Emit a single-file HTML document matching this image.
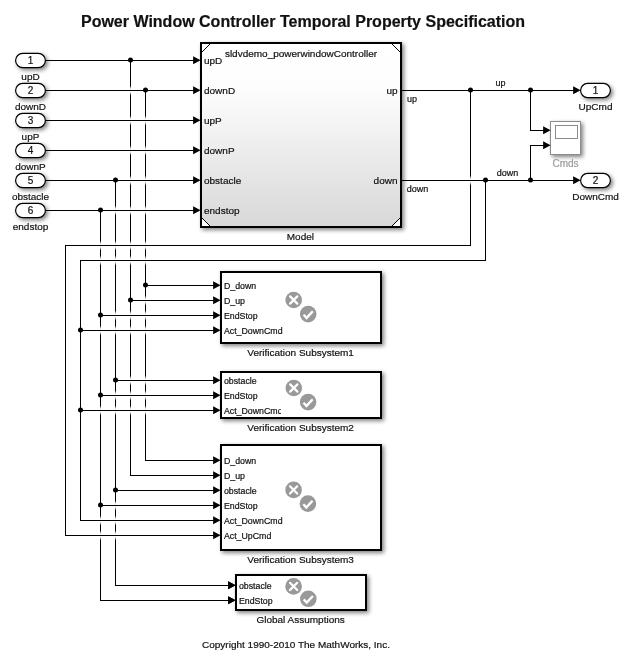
<!DOCTYPE html>
<html><head><meta charset="utf-8"><style>
html,body{margin:0;padding:0;background:#fff;}
svg{display:block;font-family:"Liberation Sans", sans-serif;will-change:transform;}
text{stroke-width:0.2;}
.w{stroke:#000;stroke-width:1;fill:none;}
.port{fill:#fff;stroke:#000;stroke-width:1.2;}
</style></head><body>
<svg width="630" height="663" viewBox="0 0 630 663">
<defs>
<clipPath id="c2" clipPathUnits="userSpaceOnUse"><rect x="222" y="372" width="59" height="46"/></clipPath>
<linearGradient id="mg" x1="0" y1="0" x2="0" y2="1"><stop offset="0" stop-color="#ffffff"/><stop offset="0.25" stop-color="#fdfdfd"/><stop offset="1" stop-color="#d8d8d8"/></linearGradient>
<linearGradient id="gg" x1="0" y1="0" x2="0" y2="1"><stop offset="0" stop-color="#fff" stop-opacity="0"/><stop offset="0.3" stop-color="#fff" stop-opacity="0.85"/><stop offset="0.5" stop-color="#fff" stop-opacity="1"/><stop offset="0.7" stop-color="#fff" stop-opacity="0.85"/><stop offset="1" stop-color="#fff" stop-opacity="0"/></linearGradient>
<filter id="sh" x="-10%" y="-10%" width="130%" height="130%"><feGaussianBlur in="SourceAlpha" stdDeviation="2"/><feOffset dx="2.4" dy="2.4" result="b"/><feComponentTransfer><feFuncA type="linear" slope="0.5"/></feComponentTransfer><feMerge><feMergeNode/><feMergeNode in="SourceGraphic"/></feMerge></filter>
</defs>
<g filter="url(#sh)">
<rect x="15.6" y="53.4" width="29.8" height="14.2" rx="7.1" class="port"/>
<rect x="15.6" y="83.4" width="29.8" height="14.2" rx="7.1" class="port"/>
<rect x="15.6" y="113.4" width="29.8" height="14.2" rx="7.1" class="port"/>
<rect x="15.6" y="143.4" width="29.8" height="14.2" rx="7.1" class="port"/>
<rect x="15.6" y="173.4" width="29.8" height="14.2" rx="7.1" class="port"/>
<rect x="15.6" y="203.4" width="29.8" height="14.2" rx="7.1" class="port"/>
<rect x="580.6" y="83.4" width="29.8" height="14.2" rx="7.1" class="port"/>
<rect x="580.6" y="173.4" width="29.8" height="14.2" rx="7.1" class="port"/>
<rect x="201" y="43" width="200" height="184" fill="url(#mg)" stroke="#000" stroke-width="2"/>
<path d="M202 44H210L202 52Z M400 44H392L400 52Z M202 226H210L202 218Z M400 226H392L400 218Z" fill="#fff"/>
<path d="M202 52L210 44 M392 44L400 52 M202 218L210 226 M392 226L400 218" stroke="#000" stroke-width="1" fill="none"/>
<rect x="550.5" y="121.5" width="30" height="33" fill="#fff" stroke="#8c8c8c" stroke-width="1"/>
<rect x="221" y="272" width="160" height="71" fill="#fff" stroke="#000" stroke-width="2"/>
<rect x="221" y="372" width="160" height="46" fill="#fff" stroke="#000" stroke-width="2"/>
<rect x="221" y="445" width="160" height="105" fill="#fff" stroke="#000" stroke-width="2"/>
<rect x="236" y="575" width="130" height="35" fill="#fff" stroke="#000" stroke-width="2"/>
</g>
<g fill="#000">
<path d="M130.5 60V475.5" class="w"/>
<path d="M145.5 90V460.5" class="w"/>
<path d="M115.5 180V585.5" class="w"/>
<path d="M100.5 210V600.5" class="w"/>
<path d="M470.5 90V245.5" class="w"/>
<path d="M65.5 245V535.5" class="w"/>
<path d="M485.5 180V260.5" class="w"/>
<path d="M80.5 260V520.5" class="w"/>
<path d="M530.5 90V131" class="w"/>
<path d="M530.5 145V180" class="w"/>
</g>
<g><rect x="144.5" y="115.5" width="2" height="10" fill="url(#gg)"/><rect x="144.5" y="145.5" width="2" height="10" fill="url(#gg)"/><rect x="144.5" y="175.5" width="2" height="10" fill="url(#gg)"/><rect x="144.5" y="205.5" width="2" height="10" fill="url(#gg)"/><rect x="144.5" y="240.5" width="2" height="10" fill="url(#gg)"/><rect x="144.5" y="255.5" width="2" height="10" fill="url(#gg)"/><rect x="144.5" y="295.5" width="2" height="10" fill="url(#gg)"/><rect x="144.5" y="310.5" width="2" height="10" fill="url(#gg)"/><rect x="144.5" y="325.5" width="2" height="10" fill="url(#gg)"/><rect x="144.5" y="375.5" width="2" height="10" fill="url(#gg)"/><rect x="144.5" y="390.5" width="2" height="10" fill="url(#gg)"/><rect x="144.5" y="405.5" width="2" height="10" fill="url(#gg)"/><rect x="129.5" y="85.5" width="2" height="10" fill="url(#gg)"/><rect x="129.5" y="115.5" width="2" height="10" fill="url(#gg)"/><rect x="129.5" y="145.5" width="2" height="10" fill="url(#gg)"/><rect x="129.5" y="175.5" width="2" height="10" fill="url(#gg)"/><rect x="129.5" y="205.5" width="2" height="10" fill="url(#gg)"/><rect x="129.5" y="240.5" width="2" height="10" fill="url(#gg)"/><rect x="129.5" y="255.5" width="2" height="10" fill="url(#gg)"/><rect x="129.5" y="310.5" width="2" height="10" fill="url(#gg)"/><rect x="129.5" y="325.5" width="2" height="10" fill="url(#gg)"/><rect x="129.5" y="375.5" width="2" height="10" fill="url(#gg)"/><rect x="129.5" y="390.5" width="2" height="10" fill="url(#gg)"/><rect x="129.5" y="405.5" width="2" height="10" fill="url(#gg)"/><rect x="114.5" y="205.5" width="2" height="10" fill="url(#gg)"/><rect x="114.5" y="240.5" width="2" height="10" fill="url(#gg)"/><rect x="114.5" y="255.5" width="2" height="10" fill="url(#gg)"/><rect x="114.5" y="310.5" width="2" height="10" fill="url(#gg)"/><rect x="114.5" y="325.5" width="2" height="10" fill="url(#gg)"/><rect x="114.5" y="390.5" width="2" height="10" fill="url(#gg)"/><rect x="114.5" y="405.5" width="2" height="10" fill="url(#gg)"/><rect x="114.5" y="500.5" width="2" height="10" fill="url(#gg)"/><rect x="114.5" y="515.5" width="2" height="10" fill="url(#gg)"/><rect x="114.5" y="530.5" width="2" height="10" fill="url(#gg)"/><rect x="99.5" y="240.5" width="2" height="10" fill="url(#gg)"/><rect x="99.5" y="255.5" width="2" height="10" fill="url(#gg)"/><rect x="99.5" y="325.5" width="2" height="10" fill="url(#gg)"/><rect x="99.5" y="405.5" width="2" height="10" fill="url(#gg)"/><rect x="99.5" y="515.5" width="2" height="10" fill="url(#gg)"/><rect x="99.5" y="530.5" width="2" height="10" fill="url(#gg)"/><rect x="469.5" y="175.5" width="2" height="10" fill="url(#gg)"/></g>
<g fill="#000">
<text x="30.5" y="64.1" font-size="10" text-anchor="middle" fill="#111" stroke="#111" >1</text>
<text transform="translate(30.5 79.8) scale(1 0.935)" font-size="10" text-anchor="middle" fill="#111" stroke="#111" >upD</text>
<path d="M45.4 60.5H194" class="w"/>
<path d="M200.6 60.25L193.1 56.35V64.15Z"/>
<text x="30.5" y="94.1" font-size="10" text-anchor="middle" fill="#111" stroke="#111" >2</text>
<text transform="translate(30.5 109.8) scale(1 0.935)" font-size="10" text-anchor="middle" fill="#111" stroke="#111" >downD</text>
<path d="M45.4 90.5H194" class="w"/>
<path d="M200.6 90.25L193.1 86.35V94.15Z"/>
<text x="30.5" y="124.1" font-size="10" text-anchor="middle" fill="#111" stroke="#111" >3</text>
<text transform="translate(30.5 139.8) scale(1 0.935)" font-size="10" text-anchor="middle" fill="#111" stroke="#111" >upP</text>
<path d="M45.4 120.5H194" class="w"/>
<path d="M200.6 120.25L193.1 116.35V124.15Z"/>
<text x="30.5" y="154.1" font-size="10" text-anchor="middle" fill="#111" stroke="#111" >4</text>
<text transform="translate(30.5 169.8) scale(1 0.935)" font-size="10" text-anchor="middle" fill="#111" stroke="#111" >downP</text>
<path d="M45.4 150.5H194" class="w"/>
<path d="M200.6 150.25L193.1 146.35V154.15Z"/>
<text x="30.5" y="184.1" font-size="10" text-anchor="middle" fill="#111" stroke="#111" >5</text>
<text transform="translate(30.5 199.8) scale(1 0.935)" font-size="10" text-anchor="middle" fill="#111" stroke="#111" >obstacle</text>
<path d="M45.4 180.5H194" class="w"/>
<path d="M200.6 180.25L193.1 176.35V184.15Z"/>
<text x="30.5" y="214.1" font-size="10" text-anchor="middle" fill="#111" stroke="#111" >6</text>
<text transform="translate(30.5 229.8) scale(1 0.935)" font-size="10" text-anchor="middle" fill="#111" stroke="#111" >endstop</text>
<path d="M45.4 210.5H194" class="w"/>
<path d="M200.6 210.25L193.1 206.35V214.15Z"/>
<text x="595.5" y="94.1" font-size="10" text-anchor="middle" fill="#111" stroke="#111" >1</text>
<text transform="translate(595.5 109.5) scale(1 0.935)" font-size="10" text-anchor="middle" fill="#111" stroke="#111" >UpCmd</text>
<path d="M580.6 90.25L573.1 86.35V94.15Z"/>
<text x="595.5" y="184.1" font-size="10" text-anchor="middle" fill="#111" stroke="#111" >2</text>
<text transform="translate(595.5 199.5) scale(1 0.935)" font-size="10" text-anchor="middle" fill="#111" stroke="#111" >DownCmd</text>
<path d="M580.6 180.25L573.1 176.35V184.15Z"/>
<path d="M220.6 285.25L213.1 281.35V289.15Z"/>
<path d="M220.6 300.25L213.1 296.35V304.15Z"/>
<path d="M220.6 315.25L213.1 311.35V319.15Z"/>
<path d="M220.6 330.25L213.1 326.35V334.15Z"/>
<text transform="translate(300.6 356.2) scale(1 0.935)" font-size="10" text-anchor="middle" fill="#111" stroke="#111" >Verification Subsystem1</text>
<path d="M220.6 380.25L213.1 376.35V384.15Z"/>
<path d="M220.6 395.25L213.1 391.35V399.15Z"/>
<path d="M220.6 410.25L213.1 406.35V414.15Z"/>
<text transform="translate(300.6 431.1) scale(1 0.935)" font-size="10" text-anchor="middle" fill="#111" stroke="#111" >Verification Subsystem2</text>
<path d="M220.6 460.25L213.1 456.35V464.15Z"/>
<path d="M220.6 475.25L213.1 471.35V479.15Z"/>
<path d="M220.6 490.25L213.1 486.35V494.15Z"/>
<path d="M220.6 505.25L213.1 501.35V509.15Z"/>
<path d="M220.6 520.25L213.1 516.35V524.15Z"/>
<path d="M220.6 535.25L213.1 531.35V539.15Z"/>
<text transform="translate(300.6 563.1) scale(1 0.935)" font-size="10" text-anchor="middle" fill="#111" stroke="#111" >Verification Subsystem3</text>
<path d="M235.6 585.25L228.1 581.35V589.15Z"/>
<path d="M235.6 600.25L228.1 596.35V604.15Z"/>
<text transform="translate(300.6 623.2) scale(1 0.935)" font-size="10" text-anchor="middle" fill="#111" stroke="#111" >Global Assumptions</text>
<circle cx="130.5" cy="59.9" r="2.5"/>
<circle cx="145.5" cy="89.9" r="2.5"/>
<circle cx="115.5" cy="179.9" r="2.5"/>
<circle cx="100.5" cy="209.9" r="2.5"/>
<path d="M130.5 300.5H214" class="w"/>
<path d="M130 475.5H214" class="w"/>
<circle cx="130.5" cy="299.9" r="2.5"/>
<path d="M145.5 285.5H214" class="w"/>
<path d="M145 460.5H214" class="w"/>
<circle cx="145.5" cy="284.9" r="2.5"/>
<path d="M115.5 380.5H214" class="w"/>
<path d="M115.5 490.5H214" class="w"/>
<path d="M115 585.5H229" class="w"/>
<circle cx="115.5" cy="379.9" r="2.5"/>
<circle cx="115.5" cy="489.9" r="2.5"/>
<path d="M100.5 315.5H214" class="w"/>
<path d="M100.5 395.5H214" class="w"/>
<path d="M100.5 505.5H214" class="w"/>
<path d="M100 600.5H229" class="w"/>
<circle cx="100.5" cy="314.9" r="2.5"/>
<circle cx="100.5" cy="394.9" r="2.5"/>
<circle cx="100.5" cy="504.9" r="2.5"/>
<path d="M235.6 585.25L228.1 581.35V589.15Z"/>
<path d="M235.6 600.25L228.1 596.35V604.15Z"/>
<path d="M402 90.5H574" class="w"/>
<path d="M402 180.5H574" class="w"/>
<circle cx="470.5" cy="89.9" r="2.5"/>
<circle cx="530.5" cy="89.9" r="2.5"/>
<circle cx="485.5" cy="179.9" r="2.5"/>
<circle cx="530.5" cy="179.9" r="2.5"/>
<path d="M65.5 245.5H471" class="w"/>
<path d="M65 535.5H214" class="w"/>
<path d="M80.5 260.5H486" class="w"/>
<path d="M80.5 330.5H214" class="w"/>
<path d="M80.5 410.5H214" class="w"/>
<path d="M80 520.5H214" class="w"/>
<circle cx="80.5" cy="329.9" r="2.5"/>
<circle cx="80.5" cy="409.9" r="2.5"/>
<path d="M530 130.5H544" class="w"/>
<path d="M550.6 130.25L543.1 126.35V134.15Z"/>
<path d="M530 145.5H544" class="w"/>
<path d="M550.6 145.25L543.1 141.35V149.15Z"/>
<text x="303" y="26.5" font-size="16" text-anchor="middle" fill="#111" stroke="#111" font-weight="bold">Power Window Controller Temporal Property Specification</text>
<text transform="translate(224.9 57.1) scale(1 0.935)" font-size="10" text-anchor="start" fill="#111" stroke="#111" >sldvdemo_powerwindowController</text>
<text transform="translate(204 63.8) scale(1 0.935)" font-size="10" text-anchor="start" fill="#111" stroke="#111" >upD</text>
<text transform="translate(204 93.8) scale(1 0.935)" font-size="10" text-anchor="start" fill="#111" stroke="#111" >downD</text>
<text transform="translate(204 123.8) scale(1 0.935)" font-size="10" text-anchor="start" fill="#111" stroke="#111" >upP</text>
<text transform="translate(204 153.8) scale(1 0.935)" font-size="10" text-anchor="start" fill="#111" stroke="#111" >downP</text>
<text transform="translate(204 183.8) scale(1 0.935)" font-size="10" text-anchor="start" fill="#111" stroke="#111" >obstacle</text>
<text transform="translate(204 213.8) scale(1 0.935)" font-size="10" text-anchor="start" fill="#111" stroke="#111" >endstop</text>
<text transform="translate(397.5 93.8) scale(1 0.935)" font-size="10" text-anchor="end" fill="#111" stroke="#111" >up</text>
<text transform="translate(397.5 183.8) scale(1 0.935)" font-size="10" text-anchor="end" fill="#111" stroke="#111" >down</text>
<text transform="translate(300.4 239.7) scale(1 0.935)" font-size="10" text-anchor="middle" fill="#111" stroke="#111" >Model</text>
<text x="407" y="101.7" font-size="9" text-anchor="start" fill="#111" stroke="#111" >up</text>
<text x="406.7" y="192" font-size="9" text-anchor="start" fill="#111" stroke="#111" >down</text>
<text x="500.5" y="85.8" font-size="9" text-anchor="middle" fill="#111" stroke="#111" >up</text>
<text x="507.5" y="176" font-size="9" text-anchor="middle" fill="#111" stroke="#111" >down</text>
<text x="565.5" y="166.6" font-size="10" text-anchor="middle" fill="#999" stroke="#999" >Cmds</text>
<text transform="translate(296 647.5) scale(1 0.935)" font-size="10" text-anchor="middle" fill="#111" stroke="#111" >Copyright 1990-2010 The MathWorks, Inc.</text>
</g>
<g font-size="9" fill="#111" stroke="#111"><g>
<text transform="translate(223.9 288.8) scale(1 1.05)" font-size="8.8">D_down</text>
<text transform="translate(223.9 303.8) scale(1 1.05)" font-size="8.8">D_up</text>
<text transform="translate(223.9 318.8) scale(1 1.05)" font-size="8.8">EndStop</text>
<text transform="translate(223.9 333.8) scale(1 1.05)" font-size="8.8">Act_DownCmd</text>
</g>
<g clip-path="url(#c2)">
<text transform="translate(223.9 383.8) scale(1 1.05)" font-size="8.8">obstacle</text>
<text transform="translate(223.9 398.8) scale(1 1.05)" font-size="8.8">EndStop</text>
<text transform="translate(223.9 413.8) scale(1 1.05)" font-size="8.8">Act_DownCmd</text>
</g>
<g>
<text transform="translate(223.9 463.8) scale(1 1.05)" font-size="8.8">D_down</text>
<text transform="translate(223.9 478.8) scale(1 1.05)" font-size="8.8">D_up</text>
<text transform="translate(223.9 493.8) scale(1 1.05)" font-size="8.8">obstacle</text>
<text transform="translate(223.9 508.8) scale(1 1.05)" font-size="8.8">EndStop</text>
<text transform="translate(223.9 523.8) scale(1 1.05)" font-size="8.8">Act_DownCmd</text>
<text transform="translate(223.9 538.8) scale(1 1.05)" font-size="8.8">Act_UpCmd</text>
</g>
<g>
<text transform="translate(238.9 588.8) scale(1 1.05)" font-size="8.8">obstacle</text>
<text transform="translate(238.9 603.8) scale(1 1.05)" font-size="8.8">EndStop</text>
</g></g>
<g><circle cx="293.7" cy="300.0" r="8.3" fill="#999"/>
<path d="M290.09999999999997 296.4L297.3 303.6M297.3 296.4L290.09999999999997 303.6" stroke="#fff" stroke-width="2.2" stroke-linecap="round" fill="none"/>
<circle cx="308.2" cy="314.1" r="8.3" fill="#999"/>
<path d="M303.59999999999997 314.70000000000005L306.59999999999997 317.90000000000003L312.8 311.3" stroke="#fff" stroke-width="2.4" fill="none"/>
<circle cx="293.8" cy="388.0" r="8.3" fill="#999"/>
<path d="M290.2 384.4L297.40000000000003 391.6M297.40000000000003 384.4L290.2 391.6" stroke="#fff" stroke-width="2.2" stroke-linecap="round" fill="none"/>
<circle cx="308.1" cy="402.1" r="8.3" fill="#999"/>
<path d="M303.5 402.70000000000005L306.5 405.90000000000003L312.70000000000005 399.3" stroke="#fff" stroke-width="2.4" fill="none"/>
<circle cx="293.6" cy="489.9" r="8.3" fill="#999"/>
<path d="M290.0 486.29999999999995L297.20000000000005 493.5M297.20000000000005 486.29999999999995L290.0 493.5" stroke="#fff" stroke-width="2.2" stroke-linecap="round" fill="none"/>
<circle cx="307.9" cy="503.6" r="8.3" fill="#999"/>
<path d="M303.29999999999995 504.20000000000005L306.29999999999995 507.40000000000003L312.5 500.8" stroke="#fff" stroke-width="2.4" fill="none"/>
<circle cx="293.6" cy="586.4" r="8.3" fill="#999"/>
<path d="M290.0 582.8L297.20000000000005 590.0M297.20000000000005 582.8L290.0 590.0" stroke="#fff" stroke-width="2.2" stroke-linecap="round" fill="none"/>
<circle cx="308.3" cy="598.8" r="8.3" fill="#999"/>
<path d="M303.7 599.4L306.7 602.5999999999999L312.90000000000003 596.0" stroke="#fff" stroke-width="2.4" fill="none"/></g>
<rect x="555.5" y="125.5" width="22" height="13" fill="none" stroke="#8c8c8c" stroke-width="1"/>
</svg>
</body></html>
